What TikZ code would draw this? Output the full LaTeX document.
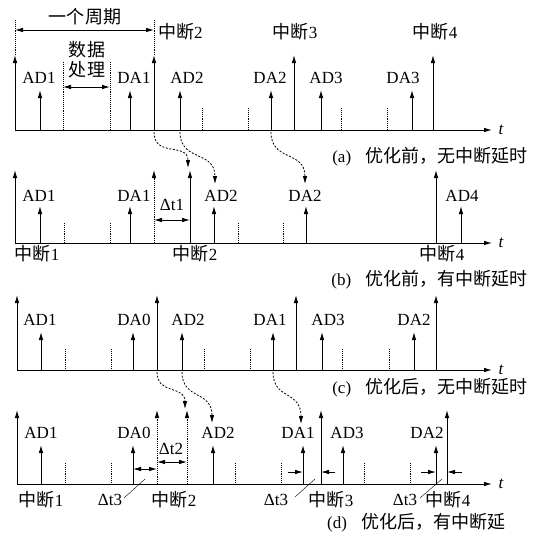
\documentclass[tikz,border=0pt]{standalone}
\usepackage{fontspec}
\setmainfont{Liberation Serif}
\newfontfamily\cjk[Scale=1.06]{Noto Sans CJK SC}
\usetikzlibrary{arrows.meta}
\tikzset{>={Latex[length=8pt,width=4.6pt]}}
\tikzstyle{axis}=[->,line width=1pt]
\tikzstyle{pulse}=[->,line width=1pt]
\tikzstyle{gap}=[->,densely dotted,line width=0.9pt]
\tikzstyle{tick}=[densely dotted,line width=0.9pt]
\tikzstyle{hop}=[->,dash pattern=on 2pt off 1.6pt,line width=0.8pt]
\tikzstyle{span}=[<->,line width=0.9pt]
\tikzstyle{lbl}=[inner sep=0pt,font=\fontsize{17}{20}\selectfont]

\begin{document}
\begin{tikzpicture}[x=1pt,y=-1pt]
    \useasboundingbox (0,0) rectangle (540,538);

    % (a) before, no delay
    \draw[axis] (15,130)--(492,130) node[lbl,right=6pt] (ta) {\textit{t}};
    \draw[tick] (15,20)--(15,55);
    \draw[tick] (154,20)--(154,55);
    \draw[span] (15,30)--(154,30);
    \node[lbl] (cyc) at (85,17) {\cjk 一个周期};
    \node[lbl] (da) at (87,50) {\cjk 数据};
    \node[lbl] (db) at (87,70) {\cjk 处理};
    \draw[tick] (63,62)--(63,130);
    \draw[tick] (110,62)--(110,130);
    \draw[span] (63,87)--(110,87);
    \draw[pulse] (15,130)--(15,55);
    \draw[pulse] (154,130)--(154,55);
    \draw[pulse] (294,130)--(294,55);
    \draw[pulse] (433,130)--(433,55);
    \node[lbl,anchor=west] (ia2) at (158,32) {{\cjk 中断}2};
    \node[lbl] (ia3) at (295,32) {{\cjk 中断}3};
    \node[lbl] (ia4) at (435,32) {{\cjk 中断}4};
    \draw[pulse] (40,130)--(40,90);
    \draw[pulse] (130,130)--(130,90);
    \draw[pulse] (180,130)--(180,90);
    \draw[pulse] (271,130)--(271,90);
    \draw[pulse] (321,130)--(321,90);
    \draw[pulse] (412,130)--(412,90);
    \node[lbl] (a1) at (39,78) {AD1};
    \node[lbl] (a2) at (134,78) {DA1};
    \node[lbl] (a3) at (187,78) {AD2};
    \node[lbl] (a4) at (270,78) {DA2};
    \node[lbl] (a5) at (326,78) {AD3};
    \node[lbl] (a6) at (403,78) {DA3};
    \draw[tick] (202,108)--(202,130);
    \draw[tick] (248,108)--(248,130);
    \draw[tick] (341,108)--(341,130);
    \draw[tick] (387,108)--(387,130);
    \node[lbl,anchor=east] (capa) at (528,157) {(a)\hspace{0.85em}{\cjk 优化前，无中断延时}};

    % (b) before, with delay
    \draw[axis] (15,243)--(492,243) node[lbl,right=6pt] (tb) {\textit{t}};
    \draw[pulse] (15,243)--(15,170);
    \draw[gap] (154,243)--(154,170);
    \draw[pulse] (190,243)--(190,170);
    \draw[pulse] (436,243)--(436,170);
    \draw[pulse] (40,243)--(40,206);
    \draw[pulse] (130,243)--(130,206);
    \draw[pulse] (214,243)--(214,206);
    \draw[pulse] (306,243)--(306,206);
    \draw[pulse] (461,243)--(461,206);
    \node[lbl] (b1) at (39,196) {AD1};
    \node[lbl] (b2) at (134,196) {DA1};
    \node[lbl] (b3) at (221,196) {AD2};
    \node[lbl] (b4) at (305,196) {DA2};
    \node[lbl] (b5) at (462,196) {AD4};
    \draw[tick] (64,223)--(64,243);
    \draw[tick] (110,223)--(110,243);
    \draw[tick] (238,223)--(238,243);
    \draw[tick] (283,223)--(283,243);
    \draw[span] (154,220)--(190,220);
    \node[lbl] (dt1) at (172,205) {Δt1};
    \node[lbl] (ib1) at (37,254) {{\cjk 中断}1};
    \node[lbl] (ib2) at (195,254) {{\cjk 中断}2};
    \node[lbl] (ib4) at (442,254) {{\cjk 中断}4};
    \draw[hop] (154,132) .. controls (154,158) and (188,142) .. (188,168);
    \draw[hop] (180,132) .. controls (180,162) and (215,150) .. (215,184);
    \draw[hop] (271,132) .. controls (271,162) and (305,150) .. (305,184);
    \node[lbl,anchor=east] (capb) at (528,280) {(b)\hspace{0.85em}{\cjk 优化前，有中断延时}};

    % (c) after, no delay
    \draw[axis] (17,370)--(492,370) node[lbl,right=6pt] (tc) {\textit{t}};
    \draw[pulse] (17,370)--(17,295);
    \draw[pulse] (157,370)--(157,295);
    \draw[pulse] (296,370)--(296,295);
    \draw[pulse] (436,370)--(436,295);
    \draw[pulse] (41,370)--(41,332);
    \draw[pulse] (133,370)--(133,332);
    \draw[pulse] (182,370)--(182,332);
    \draw[pulse] (273,370)--(273,332);
    \draw[pulse] (322,370)--(322,332);
    \draw[pulse] (414,370)--(414,332);
    \node[lbl] (c1) at (40,320) {AD1};
    \node[lbl] (c2) at (134,320) {DA0};
    \node[lbl] (c3) at (188,320) {AD2};
    \node[lbl] (c4) at (270,320) {DA1};
    \node[lbl] (c5) at (328,320) {AD3};
    \node[lbl] (c6) at (414,320) {DA2};
    \draw[tick] (65,349)--(65,370);
    \draw[tick] (111,349)--(111,370);
    \draw[tick] (204,349)--(204,370);
    \draw[tick] (250,349)--(250,370);
    \draw[tick] (342,349)--(342,370);
    \draw[tick] (389,349)--(389,370);
    \node[lbl,anchor=east] (capc) at (528,388) {(c)\hspace{0.85em}{\cjk 优化后，无中断延时}};

    % (d) after, with delay
    \draw[axis] (17,484)--(492,484) node[lbl,right=6pt] (td) {\textit{t}};
    \draw[pulse] (17,484)--(17,410);
    \draw[gap] (157,484)--(157,410);
    \draw[gap] (187,484)--(187,410);
    \draw[pulse] (321,484)--(321,410);
    \draw[pulse] (447,484)--(447,410);
    \draw[pulse] (41,484)--(41,445);
    \draw[pulse] (133,484)--(133,445);
    \draw[pulse] (213,484)--(213,445);
    \draw[pulse] (303,484)--(303,445);
    \draw[pulse] (343,484)--(343,445);
    \draw[pulse] (436,484)--(436,445);
    \node[lbl] (d1) at (41,433) {AD1};
    \node[lbl] (d2) at (134,433) {DA0};
    \node[lbl] (d3) at (218,433) {AD2};
    \node[lbl] (d4) at (298,433) {DA1};
    \node[lbl] (d5) at (347,433) {AD3};
    \node[lbl] (d6) at (427,433) {DA2};
    \draw[tick] (65,463)--(65,484);
    \draw[tick] (111,463)--(111,484);
    \draw[tick] (235,463)--(235,484);
    \draw[tick] (281,463)--(281,484);
    \draw[tick] (364,463)--(364,484);
    \draw[tick] (410,463)--(410,484);
    \draw[span] (157,462)--(187,462);
    \node[lbl] (dt2) at (171,449) {Δt2};
    \draw[span] (133,469)--(157,469);
    \draw (145,479)--(124,498);
    \node[lbl] (dt3a) at (110,500) {Δt3};
    \draw[->,line width=0.9pt] (288,472)--(303,472);
    \draw[->,line width=0.9pt] (335,472)--(321,472);
    \draw (315,479)--(295,497);
    \node[lbl] (dt3b) at (276,500) {Δt3};
    \draw[->,line width=0.9pt] (421,472)--(436,472);
    \draw[->,line width=0.9pt] (462,472)--(447,472);
    \draw (442,479)--(420,498);
    \node[lbl] (dt3c) at (405,500) {Δt3};
    \node[lbl] (id1) at (41,500) {{\cjk 中断}1};
    \node[lbl] (id2) at (174,500) {{\cjk 中断}2};
    \node[lbl] (id3) at (331,500) {{\cjk 中断}3};
    \node[lbl] (id4) at (448,500) {{\cjk 中断}4};
    \draw[hop] (157,372) .. controls (157,395) and (185,385) .. (185,409);
    \draw[hop] (182,372) .. controls (182,400) and (212,390) .. (212,423);
    \draw[hop] (273,372) .. controls (273,400) and (301,390) .. (301,424);
    \node[lbl,anchor=west] (capd) at (327,523) {(d)\hspace{0.85em}{\cjk 优化后，有中断延}};

\end{tikzpicture}
\end{document}
